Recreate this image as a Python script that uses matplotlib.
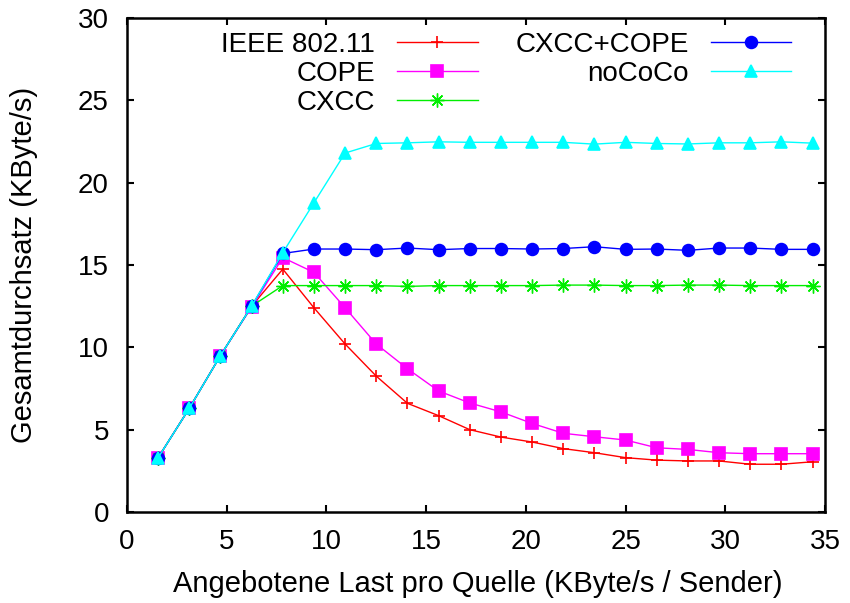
import numpy as np
import matplotlib
matplotlib.use("Agg")
import matplotlib.pyplot as plt

# offered load per source (KByte/s / Sender)
load = [1.5625, 3.125, 4.6875, 6.25, 7.8125, 9.375, 10.9375, 12.5, 14.0625, 15.625, 17.1875,
        18.75, 20.3125, 21.875, 23.4375, 25.0, 26.5625, 28.125, 29.6875, 31.25, 32.8125, 34.375]

ieee = [3.3, 6.3, 9.5, 12.5, 14.75, 12.4, 10.2, 8.25, 6.6, 5.85, 5.0,
        4.55, 4.25, 3.85, 3.6, 3.3, 3.15, 3.1, 3.1, 2.9, 2.9, 3.05]
cope = [3.3, 6.3, 9.5, 12.45, 15.45, 14.55, 12.4, 10.2, 8.7, 7.35, 6.62,
        6.08, 5.38, 4.78, 4.57, 4.37, 3.9, 3.8, 3.6, 3.54, 3.54, 3.54]
cxcc = [3.3, 6.3, 9.5, 12.5, 13.75, 13.75, 13.75, 13.75, 13.7, 13.75, 13.75,
        13.75, 13.75, 13.78, 13.78, 13.75, 13.75, 13.78, 13.78, 13.75, 13.75, 13.75]
cxcc_cope = [3.3, 6.3, 9.5, 12.5, 15.7, 15.97, 15.97, 15.93, 16.03, 15.93, 16.0,
             16.0, 15.97, 16.0, 16.11, 15.95, 15.97, 15.89, 16.03, 16.03, 15.95, 15.95]
nococo = [3.3, 6.3, 9.5, 12.5, 15.75, 18.78, 21.8, 22.38, 22.42, 22.48, 22.45,
          22.45, 22.45, 22.45, 22.34, 22.45, 22.38, 22.35, 22.42, 22.42, 22.48, 22.4]

series = [
    ("IEEE 802.11", ieee, "#ff0000", "+", 9, 1.2),
    ("COPE", cope, "#ff00ff", "s", 8, 1.2),
    ("CXCC", cxcc, "#00ee00", (8, 2, 0), 10, 1.0),
    ("CXCC+COPE", cxcc_cope, "#0000ff", "o", 8.5, 1.2),
    ("noCoCo", nococo, "#00ffff", "^", 8, 1.2),
]

plt.rcParams["font.family"] = ["Liberation Sans", "DejaVu Sans"]
plt.rcParams["font.size"] = 20

fig = plt.figure(figsize=(8.5, 6.03), dpi=100)
ax = fig.add_axes([127 / 850, 1 - 512 / 603, (825 - 127) / 850, (512 - 18) / 603])

for name, vals, col, mk, ms, mew in series:
    ax.plot(load, vals, color=col, marker=mk, markersize=ms, linewidth=1.0,
            markeredgewidth=mew, label=name)

ax.set_xlim(0, 35)
ax.set_ylim(0, 30)
ax.set_xticks(np.arange(0, 36, 5))
ax.set_yticks(np.arange(0, 31, 5))
ax.tick_params(direction="in", length=5, width=1.5, top=True, right=True, labelsize=20)
ax.tick_params(axis="x", pad=12)
ax.tick_params(axis="y", pad=13)
for s in ax.spines.values():
    s.set_linewidth(1.8)

ax.set_xlabel("Angebotene Last pro Quelle (KByte/s / Sender)", fontsize=21)
ax.set_ylabel("Gesamtdurchsatz (KByte/s)", fontsize=21)
ax.xaxis.set_label_coords(0.503, -0.118)
ax.yaxis.set_label_coords(-0.127, 0.5)

ax.legend(loc="upper right", bbox_to_anchor=(0.952, 0.972), ncol=2, frameon=False,
          markerfirst=False, handlelength=2.9, handletextpad=0.8, columnspacing=1.36,
          labelspacing=0.11, borderaxespad=0.0, borderpad=0.0, fontsize=20)

fig.savefig("out.png", dpi=100)
